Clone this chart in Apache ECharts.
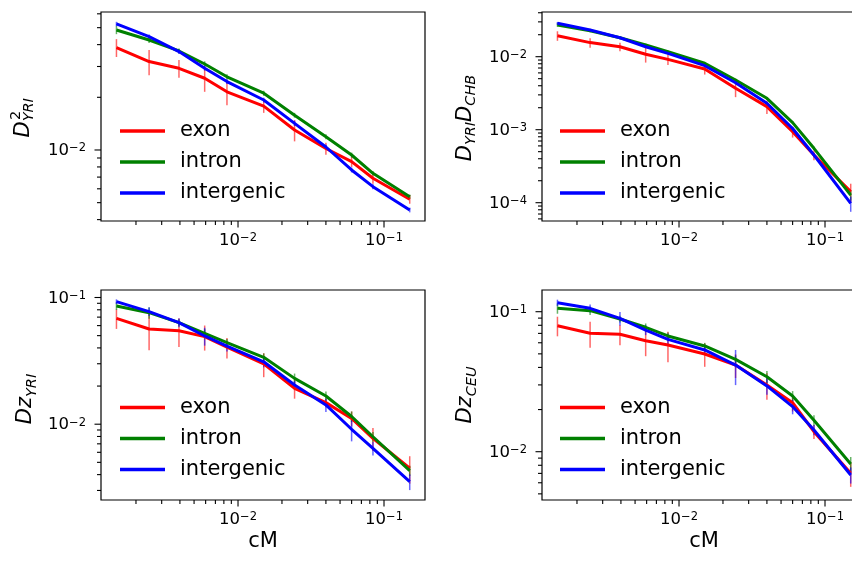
<!DOCTYPE html>
<html><head><meta charset="utf-8">
<script src="https://cdn.jsdelivr.net/npm/echarts@6/dist/echarts.min.js"></script>
<style>html,body{margin:0;padding:0;overflow:hidden;background:#fff}#c{width:880px;height:561px}</style>
</head><body><div id="c"></div>
<script>
// x values (cM)
const cM = [0.00147, 0.00246, 0.00394, 0.00591, 0.0084, 0.015, 0.0244, 0.04, 0.06, 0.084, 0.15];
const seriesNames = ['exon', 'intron', 'intergenic'];

// Panel 0: D^2_YRI
const p0Exon = [0.0385, 0.0320, 0.0293, 0.0257, 0.0215, 0.0178, 0.0130, 0.0102, 0.00858, 0.00689, 0.00523];
const p0ExonErr = [0.0045, 0.0053, 0.0034, 0.0042, 0.0035, 0.0015, 0.0018, 0.0008, 0.00058, 0.00047, 0.0003];
const p0Intron = [0.0485, 0.0425, 0.0368, 0.0310, 0.0262, 0.0211, 0.0158, 0.0119, 0.00936, 0.00736, 0.00541];
const p0IntronErr = [0.0026, 0.0017, 0.0012, 0.0011, 0.0009, 0.0007, 0.0005, 0.0004, 0.0003, 0.00022, 0.00015];
const p0Interg = [0.0525, 0.0444, 0.0365, 0.0293, 0.0246, 0.0193, 0.0142, 0.0104, 0.00769, 0.00617, 0.00454];
const p0IntergErr = [0.0015, 0.0013, 0.0011, 0.0009, 0.0008, 0.0006, 0.0005, 0.0003, 0.00025, 0.0002, 0.00014];

// Panel 1: D_YRI D_CHB
const p1Exon = [0.0194, 0.0156, 0.0137, 0.0108, 0.0092, 0.00679, 0.00369, 0.00207, 0.00094, 0.00045, 0.000142];
const p1ExonErr = [0.0029, 0.0023, 0.0018, 0.0025, 0.0015, 0.0011, 0.0009, 0.00043, 0.00016, 0.00007, 0.00004];
const p1Intron = [0.0272, 0.0227, 0.0182, 0.0145, 0.0117, 0.00812, 0.0048, 0.00269, 0.00125, 0.000556, 0.000127];
const p1IntronErr = [0.0015, 0.001, 0.0008, 0.0006, 0.0005, 0.0003, 0.0002, 0.00012, 0.00006, 0.00003, 0.00002];
const p1Interg = [0.0287, 0.0232, 0.0182, 0.0137, 0.0111, 0.00753, 0.0044, 0.0023, 0.00104, 0.00045, 0.000098];
const p1IntergErr = [0.0012, 0.0009, 0.0007, 0.0006, 0.0004, 0.0003, 0.0002, 0.0001, 0.00005, 0.00003, 0.000023];

// Panel 2: Dz_YRI
const p2Exon = [0.0685, 0.0564, 0.0547, 0.0491, 0.0405, 0.0299, 0.0192, 0.0148, 0.0111, 0.00774, 0.00449];
const p2ExonErr = [0.012, 0.018, 0.014, 0.011, 0.0075, 0.0064, 0.0033, 0.0012, 0.0015, 0.0016, 0.0011];
const p2Intron = [0.0857, 0.0759, 0.0633, 0.0522, 0.0440, 0.0337, 0.0230, 0.0167, 0.0115, 0.00796, 0.0043];
const p2IntronErr = [0.006, 0.008, 0.004, 0.004, 0.003, 0.0025, 0.0021, 0.0014, 0.0011, 0.0007, 0.0004];
const p2Interg = [0.0927, 0.0773, 0.0633, 0.0497, 0.0414, 0.0311, 0.0204, 0.0142, 0.00912, 0.00645, 0.00352];
const p2IntergErr = [0.004, 0.006, 0.005, 0.008, 0.004, 0.003, 0.0015, 0.0017, 0.0018, 0.0008, 0.0005];

// Panel 3: Dz_CEU
const p3Exon = [0.0794, 0.0701, 0.0690, 0.0621, 0.0578, 0.0499, 0.0416, 0.0299, 0.0224, 0.0139, 0.00701];
const p3ExonErr = [0.0127, 0.0148, 0.0113, 0.014, 0.0142, 0.0095, 0.008, 0.0064, 0.003, 0.0016, 0.0014];
const p3Intron = [0.1057, 0.1017, 0.0887, 0.0774, 0.0671, 0.0569, 0.0457, 0.0343, 0.0250, 0.0168, 0.00817];
const p3IntronErr = [0.009, 0.007, 0.005, 0.005, 0.004, 0.003, 0.003, 0.0034, 0.0021, 0.0014, 0.001];
const p3Interg = [0.1159, 0.1057, 0.0897, 0.0740, 0.0635, 0.0533, 0.0416, 0.0295, 0.0210, 0.0143, 0.00682];
const p3IntergErr = [0.006, 0.007, 0.01, 0.006, 0.006, 0.004, 0.0117, 0.004, 0.0025, 0.0012, 0.0009];

// axis ranges and ticks
const xMin = 0.001152, xMax = 0.1909;
const xMajorTicks = [0.01, 0.1];
const xMinorTicks = [0.002,0.003,0.004,0.005,0.006,0.007,0.008,0.009,0.02,0.03,0.04,0.05,0.06,0.07,0.08,0.09];
const yRanges = [[0.003928, 0.06145], [5.614e-5, 0.04095], [0.002522, 0.1146], [0.004519, 0.1429]];
const yMajorTicks = [[0.01], [0.0001, 0.001, 0.01], [0.01, 0.1], [0.01, 0.1]];
const yMinorTicks = [
  [0.004,0.005,0.006,0.007,0.008,0.009,0.02,0.03,0.04,0.05,0.06],
  [6e-5,7e-5,8e-5,9e-5,2e-4,3e-4,4e-4,5e-4,6e-4,7e-4,8e-4,9e-4,0.002,0.003,0.004,0.005,0.006,0.007,0.008,0.009,0.02,0.03,0.04],
  [0.003,0.004,0.005,0.006,0.007,0.008,0.009,0.02,0.03,0.04,0.05,0.06,0.07,0.08,0.09],
  [0.005,0.006,0.007,0.008,0.009,0.02,0.03,0.04,0.05,0.06,0.07,0.08,0.09]
];

const panels = [
  [[p0Exon,p0ExonErr],[p0Intron,p0IntronErr],[p0Interg,p0IntergErr]],
  [[p1Exon,p1ExonErr],[p1Intron,p1IntronErr],[p1Interg,p1IntergErr]],
  [[p2Exon,p2ExonErr],[p2Intron,p2IntronErr],[p2Interg,p2IntergErr]],
  [[p3Exon,p3ExonErr],[p3Intron,p3IntronErr],[p3Interg,p3IntergErr]]
];
const colors = ['#ff0000', '#008000', '#0000ff'];
const FONT = '"DejaVu Sans", sans-serif';

const grids = [
  {left: 101, top: 12, width: 324, height: 209},
  {left: 542, top: 12, width: 324, height: 209},
  {left: 101, top: 290, width: 324, height: 210},
  {left: 542, top: 290, width: 324, height: 210}
];

const chart = echarts.init(document.getElementById('c'), null, {renderer: 'canvas'});

function tickLabelStyle(v, align, vAlign) {
  const e = Math.round(Math.log10(v));
  return {
    text: '{b|10}{s|' + (e < 0 ? '\u2212' : '') + Math.abs(e) + '}',
    align: align, verticalAlign: vAlign, fill: '#000',
    rich: {
      b: {fontSize: 16.5, fontFamily: FONT, lineHeight: 17, verticalAlign: 'bottom', fill: '#000'},
      s: {fontSize: 11.5, fontFamily: FONT, lineHeight: 12, verticalAlign: 'top', padding: [0, 0, 8, 0], fill: '#000'}
    }
  };
}

function tickRender(params, api) {
  const p = api.coord([api.value(0), api.value(1)]);
  const k = api.value(2);
  const st = {stroke: '#000', lineWidth: 1.1};
  const ch = [];
  if (k === 0 || k === 1) {
    const len = k === 0 ? 6.5 : 4;
    ch.push({type: 'line', shape: {x1: p[0], y1: p[1], x2: p[0], y2: p[1] + len}, style: st});
    if (k === 0) ch.push({type: 'text', x: p[0], y: p[1] + 11, style: tickLabelStyle(api.value(0), 'center', 'top')});
  } else {
    const len = k === 2 ? 6.5 : 4;
    ch.push({type: 'line', shape: {x1: p[0] - len, y1: p[1], x2: p[0], y2: p[1]}, style: st});
    if (k === 2) ch.push({type: 'text', x: p[0] - 15, y: p[1] + 1, style: tickLabelStyle(api.value(1), 'right', 'middle')});
  }
  return {type: 'group', children: ch};
}

function errRender(params, api) {
  const x = api.value(0), y = api.value(1), e = api.value(2);
  const hi = api.coord([x, y + e]);
  const lo = api.coord([x, Math.max(y - e, 1e-9)]);
  return {type: 'line', shape: {x1: hi[0], y1: hi[1], x2: lo[0], y2: lo[1]},
    style: {stroke: api.visual('color'), lineWidth: 1.5, opacity: 0.6}};
}

const xAxes = [], yAxes = [], series = [], legends = [];
const hidden = {axisLine: {show: false}, axisTick: {show: false}, axisLabel: {show: false}, splitLine: {show: false}};
const legendPos = [[120, 120.5], [560, 120.5], [120, 397], [560, 397]];

for (let p = 0; p < 4; p++) {
  xAxes.push(Object.assign({type: 'log', logBase: 10, gridIndex: p, min: xMin, max: xMax}, hidden));
  yAxes.push(Object.assign({type: 'log', logBase: 10, gridIndex: p, min: yRanges[p][0], max: yRanges[p][1]}, hidden));
  for (let s = 0; s < 3; s++) {
    const vals = panels[p][s][0], errs = panels[p][s][1];
    series.push({
      type: 'custom', xAxisIndex: p, yAxisIndex: p, silent: true, z: 2,
      itemStyle: {color: colors[s]},
      renderItem: errRender,
      data: cM.map((x, i) => [x, vals[i], errs[i]])
    });
  }
  for (let s = 0; s < 3; s++) {
    const vals = panels[p][s][0];
    series.push({
      type: 'line', name: seriesNames[s], xAxisIndex: p, yAxisIndex: p, z: 3,
      symbol: 'none', showSymbol: false, silent: true,
      itemStyle: {color: colors[s]},
      lineStyle: {color: colors[s], width: 3},
      emphasis: {disabled: true},
      data: cM.map((x, i) => [x, vals[i]])
    });
  }
  const ymin = yRanges[p][0];
  const tickData = []
    .concat(xMajorTicks.map(v => [v, ymin, 0]))
    .concat(xMinorTicks.map(v => [v, ymin, 1]))
    .concat(yMajorTicks[p].map(v => [xMin, v, 2]))
    .concat(yMinorTicks[p].map(v => [xMin, v, 3]));
  series.push({type: 'custom', xAxisIndex: p, yAxisIndex: p, silent: true, z: 5,
    renderItem: tickRender, data: tickData});
  legends.push({
    left: legendPos[p][0], top: legendPos[p][1], orient: 'vertical', padding: 0,
    itemWidth: 45, itemHeight: 3.5, itemGap: 10, icon: 'rect', selectedMode: false,
    data: seriesNames,
    textStyle: {fontSize: 21, fontFamily: FONT, color: '#000', lineHeight: 20.7, padding: [0, 0, 0, 10]}
  });
}

const richY = {
  d: {fontSize: 21, fontFamily: FONT, fontStyle: 'italic', lineHeight: 27, verticalAlign: 'middle', fill: '#000'},
  s: {fontSize: 14.5, fontFamily: FONT, fontStyle: 'italic', lineHeight: 14, verticalAlign: 'bottom', fill: '#000'}
};
function yLab(x, y, txt) {
  return {type: 'group', x: x, y: y, rotation: Math.PI / 2, children: [
    {type: 'text', x: 0, y: 0, style: {text: txt, rich: richY, align: 'center', verticalAlign: 'middle', fill: '#000'}}
  ]};
}

const graphics = [
  {type: 'group', x: 23.5, y: 117.5, rotation: Math.PI / 2, children: [
    {type: 'text', x: -20, y: 0, style: {text: '{d|D}{s|YRI}', rich: richY, align: 'left', verticalAlign: 'middle', fill: '#000'}},
    {type: 'text', x: -2.5, y: -7.5, style: {text: '2', font: '14.5px ' + FONT, align: 'left', verticalAlign: 'middle', fill: '#000'}}
  ]},
  yLab(465.5, 118, '{d|D}{s|YRI}{d|D}{s|CHB}'),
  yLab(26, 399, '{d|Dz}{s|YRI}'),
  yLab(466, 395, '{d|Dz}{s|CEU}'),
  {type: 'text', x: 263, y: 542, style: {text: 'cM', font: '21px ' + FONT, align: 'center', verticalAlign: 'middle', fill: '#000'}},
  {type: 'text', x: 704, y: 542, style: {text: 'cM', font: '21px ' + FONT, align: 'center', verticalAlign: 'middle', fill: '#000'}}
];

chart.setOption({
  animation: false,
  backgroundColor: '#fff',
  grid: grids.map(g => Object.assign({show: true, borderColor: '#000', borderWidth: 1.2, backgroundColor: 'transparent', containLabel: false}, g)),
  xAxis: xAxes,
  yAxis: yAxes,
  legend: legends,
  series: series,
  graphic: graphics
});
</script></body></html>
